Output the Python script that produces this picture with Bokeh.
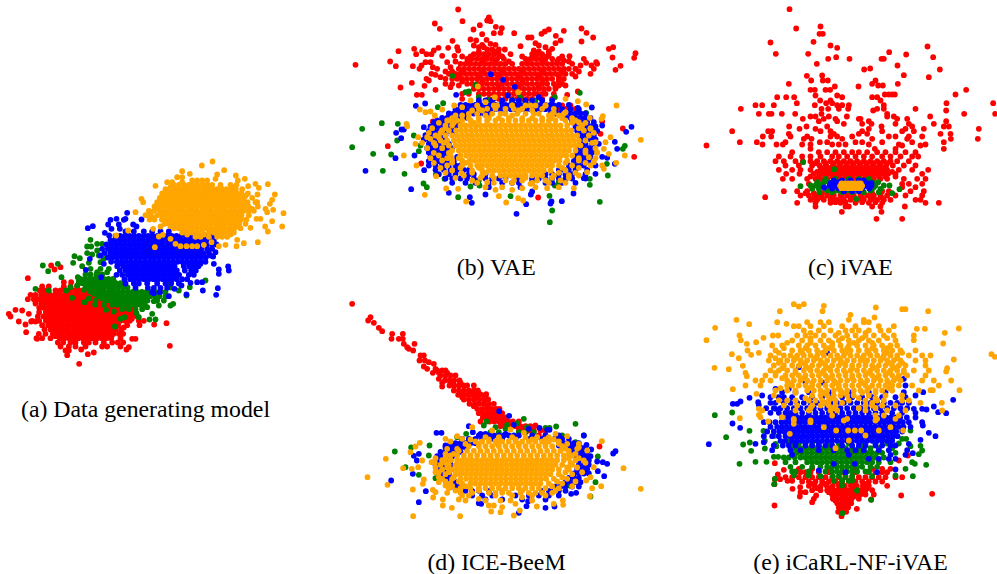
from bokeh.plotting import figure
from bokeh.embed import file_html
from bokeh.resources import INLINE
from bokeh.core.properties import value

a_origin = (0, 150)
b_origin = (345, 5)
c_origin = (695, 0)
d_origin = (345, 295)
e_origin = (695, 295)

colors = ["red", "green", "blue", "orange"]
captions = ["(a) Data generating model", "(b) VAE", "(c) iVAE", "(d) ICE-BeeM", "(e) iCaRL-NF-iVAE"]
caption_x = [145, 496, 850, 496, 850]
caption_y = [408, 266, 266, 561, 561]

a_red = [(345,152),(350,180),(357,162),(383,82),(478,45),(480,65),(490,25,85),(498,30),(513,55,105,92),(522,75,461),(545,77),(518,498),(586,508),(640,236),(614,200),(611,262),(606,280),(597,242,378),(590,385),(565,395,405,110),(600,195,205),
(395,190,212,236),(408,125,145,190,210,230,270,290),(420,118,132,165,180,195,209,223,237,251,265,279,293,307),
(433,90,105,122,136,150,164,178,192,206,220,234,248,262,276,290,304,318,332),(446,82,100,113,127,141,155,169,183,197,211,225,239,253,267,281,295,309,323,337,350),
(459,105,122,136,150,164,178,192,206,220,234,248,262,276,290,304,318,332,346,360,372),(472,116,129,143,157,171,185,199,213,227,241,255,269,283,297,311,325,339,353,367,381,392),
(485,116,136,150,164,178,192,206,220,234,248,262,276,290,304,318,332,346,360,374,388,402),(498,112,129,143,157,171,185,199,213,227,241,255,269,283,297,311,325,339,353,367,381,395,410),
(511,95,116,136,150,164,178,192,206,220,234,248,262,276,290,304,318,332,346,360,374,388,415,430),(524,125,143,157,171,185,199,213,227,241,255,269,283,297,311,325,339,353,380,417),
(537,132,150,164,178,192,206,220,234,248,262,276,290,304,318,332,346,362),(550,115,135,157,171,185,199,213,227,241,255,269,283,297,311,325,339,355,368),
(563,108,125,150,178,192,206,220,234,248,262,276,290,304,318,332,360),(576,172,188,210,225,250,265,285,310,335,352,368),(588,180,205,225,255,305,320,360),
(427,143,171,199,227,255,283,311),(453,133,175,217,259,301,343),(479,150,192,234,276,318,360),(505,143,185,227,269,311,353,394),(531,160,202,244,286,328,370),(557,165,207,249,291,333)]
a_green = [(345,127),(340,172),(362,143),(415,105),(420,145,197),(380,183,232),(268,270),(288,260,272),(280,290,305),(317,222),(323,238),(308,260),(312,275),(337,218,265),(347,245),(300,290),(315,295),(325,310),(335,300),(465,475,510),(460,518),(490,455),(507,465,447),(500,415,372),(488,408),(505,360),(528,343),(483,340),(478,317),(462,284),(455,252),(442,215),(410,210),(398,245),(435,558),(420,535),(410,568),(348,575),(390,615),(450,490),(452,460),(470,440),
(372,255,270,288,305),(385,240,254,268,282,296,310,324,338),(398,248,262,276,290,304,318,332,346,360,500),(411,255,269,283,297,311,325,339,353,367,381,510),(424,270,284,298,312,326,340,354,368,382,396,410,424,438,452,466,480,495),(437,295,309,323,337,351,365,379,393,407,421,435,449,463,477,495),(450,285,315,329,343,357,371,385,399,413,427,441,470),(463,310,335,349,363,377,391,405,419,433),(476,365,385,405,425),
(355,270,300,325),(365,290,320),(392,235,270,300,340),(405,230,275,315,350),(418,250,290,330),(430,280,320,350),(444,265,305,345)]
a_blue = [(187,380),(208,330,370),(205,348,375),(233,262),(227,277),(222,323,355,398),(228,408),(207,423),(247,313),(255,326),(235,333,358),(325,268),(358,256),(380,302),(357,655),(370,655),(348,683),(360,685),(413,652),(433,647),(420,607),(432,558),(415,522),(437,505),(395,590,605),(340,640),(315,630),(305,645),(318,638),(307,625),(405,543),(397,570),(428,460),(412,442),
(243,375,400,430,455,480,505),(256,345,359,373,387,401,415,429,443,457,471,485,500,514,528,542,556,570,584,598,612,626,640),(269,330,344,358,372,386,400,414,428,442,456,470,484,498,512,526,540,554,568,582,596,610,624,640),(282,318,332,346,360,374,388,402,416,430,444,458,472,486,500,514,530,545,560,575,590,605,620,635,648),
(295,305,322,336,350,364,378,392,406,420,434,448,462,476,490,504,518,532,546,560,574,588,602,620,635),(308,312,329,343,357,371,385,399,413,427,441,455,469,483,497,511,525,539,553,567,581,595,609),(321,322,336,350,364,378,392,406,420,434,448,462,476,490,504,518,532,546,560,574,588,602,616),
(334,332,349,363,377,391,405,419,433,447,461,475,489,503,517,531,545,559,573,587,601,615),(347,350,368,382,396,410,424,438,452,466,480,494,508,522,550,566,580,594),(360,358,375,389,403,417,431,445,459,473,487,501,515,529,553,572,586),(373,348,365,382,396,410,424,438,452,466,480,494,508,522,536,565,580),(386,372,389,403,417,431,445,459,473,487,501,515,529,545,560),(399,375,400,415,440,470,495,512,535),(412,405,460,480,500),(425,455,478),
(262,365,395,425,455,485),(315,300,345,395,445,495,545,595),(340,310,355,400,450,500,550,600)]
a_orange = [(45,604),(33,636),(59,671),(62,545),(80,530,545),(70,568),(72,650),(85,645,733),(75,706),(90,712),(100,765),(101,802),(112,775),(107,743),(106,465),(145,423),(155,428,470),(185,405,800),(188,849),(228,845,794),(212,815),(243,802),(275,772),(287,708,655),(278,730),(268,710),(232,750),(205,768,780),(132,823,771),(148,815),(160,808),(175,795),(178,818),(155,770),(240,383),(255,347),(290,463),(235,458),(228,480),(258,475),(253,487),(265,510),(280,525),(287,540,558,575,590),(283,610,675),(275,633),(95,500,515,545),
(90,575,590,605,620),(103,520,535,550,565,579,593,607,621,635,660,690,708),(116,495,510,524,538,552,566,580,594,608,622,636,650,664,678,692,706,725),(129,485,499,513,527,541,555,569,583,597,611,625,639,653,667,681,695,709,723,742),
(142,478,492,506,520,534,548,562,576,590,604,618,632,646,660,674,688,702,716,730,755),(155,475,489,503,517,531,545,559,573,587,601,615,629,643,657,671,685,699,713,727,741,765),(168,462,478,492,506,520,534,548,562,576,590,604,618,632,646,660,674,688,702,716,730,744,772),
(181,445,460,478,492,506,520,534,548,562,576,590,604,618,632,646,660,674,688,702,716,730,744,760),(194,435,450,470,485,499,513,527,541,555,569,583,597,611,625,639,653,667,681,695,709,723,745),(207,447,462,484,498,512,526,540,554,568,582,596,610,624,638,652,666,680,694,708,722,738),
(220,492,506,520,534,548,562,576,590,604,618,632,646,660,674,688,702,716,735),(233,520,534,548,562,576,590,604,618,632,646,660,674,688,702,720),(246,545,560,575,590,605,625,640,655,670,685,700),(259,585,600,625,650,665,680),
(110,510,560,610,660,700),(136,500,550,600,650,700,735),(175,470,520,570,620,670,720,755),(200,455,505,555,605,655,705),(227,510,560,610,660,710),(252,560,610,650,690)]

b_red = [(12,338),(36,430),(45,425),(47,435,351),(54,268),(59,403),(70,283),(72,384,610),(64,451),(68,469),(82,465,723),(83,445,506),(86,410),(78,598),(85,588),(76,655),(69,708),(96,743,548,558),(108,708),(91,631),(105,645,392),(102,375),(106,321),(103,423),(115,435),(120,385,580),(125,400,415,335,600,803),(127,308,279),(135,265,338,565),(130,206,790,620),(137,159,230),(146,212,243,258),(151,290,327),(122,525),(113,570,630),(143,870),(157,866),(156,801),(181,825),(193,810),(170,752,240,305),(160,715),(172,722),(180,705,228,738),(152,672),(165,655),(178,30),(168,134),(182,151,202),(190,222,690,745),(170,255),(185,262,315),(205,258,310),(190,275),(208,270),(215,285),(220,243),(225,250),(232,199),(241,237),(246,165),(253,270),(268,214,229,665),(235,300),(245,315),(240,340,660,640),(205,735),(175,755),(247,630),(258,697),(198,320),
(118,410,450),(132,425,440,460,478),(146,385,400,415,430,445,460,495,560,575,590,610),(160,365,380,395,410,425,440,455,475,540,555,570,585,600,620,640),(175,345,360,375,390,405,420,435,450,465,480,500,530,545,560,575,590,605,620,635,650,680),
(190,340,355,370,385,400,415,430,445,460,475,490,505,520,535,550,565,580,595,610,625,640,655,670,690),(205,330,345,360,375,390,405,420,435,450,465,480,495,510,525,540,555,570,585,600,615,630,645,660,680),
(220,300,320,335,350,365,380,395,410,425,440,455,470,485,500,515,530,545,560,575,590,605,620,640,655),(235,320,365,380,395,410,425,440,455,470,485,500,515,530,545,560,575,590,605,625,650),(250,385,400,415,430,445,460,475,490,505,520,535,550,565,580,595,610,630),(265,350,370,400,415,430,445,460,475,490,505,520,535,550,565,575,590,600,625),(280,350,430,445,460,480,500,515,530,545,560,590,620),(300,650,675),(310,640,660,690),(348,262,770),(474,227),(422,127),(369,832),(454,866),(576,578),(385,765),(460,705),
(138,400,450,580,610),(153,350,375,420,470,530,565,605,650),(168,330,370,410,450,490,545,590,635,670),(198,300,350,410,470,530,590,650,700),(213,340,400,460,520,580,640,690),(228,350,410,470,530,590,640),(243,400,460,520,580)]
b_green = [(370,50),(353,109),(355,157),(425,20),(445,83),(447,137),(405,155),(496,112),(505,177),(534,234),(545,244),(520,297,733),(575,338),(543,375),(540,402,628),(572,495),(571,612),(615,620),(650,613),(589,763),(510,787),(538,733),(475,784),(421,838),(430,832,745),(322,722),(262,703),(275,628,400,523),(211,321),(260,360),(258,370),(293,293),(305,277),(390,205),(420,225),(437,220),(380,253),(440,267),(507,271),(530,640),(238,390),(283,430),(328,680),(360,745),(290,400,540),(285,500,570),(525,400,560),(480,290,700),(350,310,700)]
b_blue = [(496,60),(458,150),(551,197),(450,207),(382,152),(372,168,175),(398,167),(301,211),(294,239),(494,236),(562,310),(575,373),(592,379),(567,420),(625,513),(596,542),(594,615),(588,618),(587,649),(564,684),(567,556),(558,560),(364,858),(379,842),(430,815),(409,808),(457,785),(475,808),(505,750),(518,715),(306,739),(307,697),(268,332),(206,436),(223,473),(244,508),(270,487),(275,580),(300,625),(360,770),(365,235),(355,290),(345,275),
(285,400,420,440,470,500,520,540,560,590,620),(298,345,360,375,390,405,420,435,450,465,480,495,510,525,540,555,570,585,600,615,640,670),(311,330,345,360,375,390,405,420,435,450,465,480,495,510,525,540,555,570,585,600,615,630,650,675,700),(324,310,325,340,355,370,385,400,415,430,615,630,645,660,675,690,705,720),(337,290,305,320,335,350,365,660,675,690,705,720,735),(350,265,280,295,310,325,340,680,695,710,725,745),(363,255,270,285,300,315,330,690,705,720,735,750),(376,250,265,280,295,310,325,695,710,725,740,755),(389,240,255,270,285,300,700,715,730,745),(402,235,250,265,280,295,705,720,735,750),(415,250,265,280,295,310,705,720,740,760),(428,245,260,275,290,305,320,700,715,730,745),(441,250,265,280,295,310,695,710,725,740),(454,255,270,285,300,315,335,690,705,720,735,770),(467,250,265,280,295,310,325,685,700,715,730),(480,250,270,290,310,330,345,670,685,700,715,750),(493,270,295,315,335,355,370,640,655,670,690,725),(506,280,310,330,350,370,385,420,600,620,640,660,680,720),(519,300,320,345,365,385,420,440,460,480,520,560,580,600,620,640,660,680,720),(532,320,360,390,430,470,500,520,560,600,620,650,690),(545,430,525)]
b_orange = [(300,813),(403,886),(450,838),(472,812),(355,183),(362,185),(450,175),(480,213),(568,238),(549,302),(550,338),(588,362),(591,482),(578,518),(585,533),(312,223,290),(320,240),(318,255),(330,268),(300,326),(243,397),(275,448),(260,518),(280,660),(287,697),(297,722),(332,772),(340,768),(337,733),(395,795),(410,780),(430,775),(445,790),(490,775),(480,770,735),(470,745),(500,725),(510,700),(548,685,605,530),(535,555),(553,500),(572,460),(553,450),(530,425),(525,380),(503,348),(495,320),(512,272),(415,210),(395,218,245),(400,255),(395,280),(375,290),(345,305),(330,330),(305,350),(285,375),(300,395),(290,420),(300,455,500,540,570,600),(322,625),(320,660),(350,700),(370,735),(410,750),(440,755),(455,730),(315,380,410,520,560),(330,350,420,500,610,640),
(345,310,335,350,375,400,425,450,470,490,510,530,550,570,590,610,630,660,690),(360,300,320,345,360,375,390,405,420,435,450,465,480,495,510,525,540,555,570,585,600,615,630,645,665,710),(375,290,310,332,347,362,377,392,407,422,437,452,467,482,497,512,527,542,557,572,587,602,617,632,647,662,677,715),
(390,270,300,320,335,350,365,380,395,410,425,440,455,470,485,500,515,530,545,560,575,590,605,620,635,650,665,680,695,730),(405,285,305,325,340,355,370,385,400,415,430,445,460,475,490,505,520,535,550,565,580,595,610,625,640,655,670,685,700,720),(420,270,310,330,345,360,375,390,405,420,435,450,465,480,495,510,525,540,555,570,585,600,615,630,645,660,675,690,705),
(435,320,340,355,370,385,400,415,430,445,460,475,490,505,520,535,550,565,580,595,610,625,640,655,670,690,720),(450,280,315,345,362,377,392,407,422,437,452,467,482,497,512,527,542,557,572,587,602,617,632,647,662,680),(465,290,320,350,372,387,402,417,432,447,462,477,492,507,522,537,552,567,582,597,612,627,642,665,700),
(480,305,350,375,395,410,425,440,455,470,485,500,515,530,545,560,575,590,605,620,640,680),(495,380,410,430,445,460,475,490,505,520,535,550,565,580,595,615,660),(510,355,410,440,465,480,495,510,525,540,560,575,590,625,670),(525,480,505,530,575,600,645),
(300,445,500,555,600),(310,400,425,450,480,505,530,590,625),(325,370,395,440,465,480,515,540,565,580,620,655),(338,320,370,400,430,460,490,530,560,590,620,650,680),(352,280,325,385,680,720),(368,260,300,700,735),(382,250,285,745),(412,230,265,295,740),(428,245,290,750),(442,265,310,720,755),(458,255,305,340,700,750),(472,265,320,360,660,720),(487,285,345,400,650,700),(502,300,380,420,640,690),(517,330,405,445,540,620,670),(532,395,445,500,560,610,660),(545,420,470,570,640)]

c_red = [(26,282),(84,302),(78,375),(100,372,382),(126,225),(124,354),(135,405),(142,425),(138,696),(160,241,338),(155,581),(162,632),(170,422,713),(175,398,462,558,565),(190,364),(195,606),(207,506,733),(204,524),(224,625),(226,334),(230,700),(225,380),(240,347,382,397,540),(250,280,607,530),(258,418,489),(255,548,562),(268,345,358,404,390,812),(282,568,580,590,598,780),(285,360,425),(290,272,296,245,440,530,545),(300,374,405,555),(308,304,392,410,893,753),(314,180,200,235,358,440,425,460,565),(325,136,378,398,430,458,545,565,660),(330,752,533),(340,190,220,228,259,299,378,575,806,899),(348,345,360,400,454,595,575,704),(355,322,385,420,490,495,605,635),(362,370,425,520,752),(370,445,500,528,600,640,715),(378,281,333,395,558,650,745,760),(385,312,360,520,630,685,850),(392,110,218,230,375,405,500,560,620,655),(400,280,415,490,515,735,765),(408,202,227,285,335,405,425,470,600,580,640,680),(415,325,348,440,530,635,766,847),(425,133,184,270,373,395,480,500,560,650,745),(432,201,243,262,320,345,410,430,450,520,610,690),(435,33,620,675),(445,345,745,538,600),
(455,290,370,395,420,445,470,490,515,545,570,600,630,660),(468,250,285,320,345,375,410,430,455,480,505,530,560,585,615,650,668),(482,240,265,300,322,345,365,385,405,425,445,465,485,505,525,545,565,585,605,640),(495,270,310,350,372,392,412,432,452,472,492,512,532,552,572,592,625,660),(508,250,290,315,345,375,395,415,435,455,475,495,515,535,555,575,610,650,698),(520,272,312,355,378,398,418,438,458,478,498,518,538,558,578,600,680),(535,262,290,335,360,375,395,415,435,455,475,495,515,535,555,575,625,665,690),(550,340,620,640,680),(560,620,660),(572,265,305,335,560,580,645,685),(585,315,340,360,375,395,415,435,455,475,495,515,535,555,575,600,630,680),(590,209),(598,345,365,385,405,425,445,465,485,505,525,545,565,585,660,675),(607,730,690,305,360,405,435,480,520,560),(618,360,460,450,530,555,628),(634,439,558),(655,620,543),
(488,360,390,415,435,455,475,495,515,535,555,575),(502,385,405,425,445,465,485,505,525,545,565),(514,365,385,405,425,445,465,485,505,525,545,565,590),(528,345,370,390,410,430,450,470,490,510,530,550,570,600),(592,355,380,410,440,470,500,530,560),(578,330,355,380,410,440,470,500,530,555),(605,420,450,500,540)]
c_green = [(485,323),(506,416),(557,315),(566,612),(578,590),(595,482),(535,390,420,460,490,520),(545,365,385,530,548),(555,345,360,375,540,565,582),(565,350,370,390,530,555),(575,372,410,440,470,505,550),(545,400,520),(550,380,535),(560,385,535),(570,395,425,455,485,525)]
c_blue = [(561,386),(540,415,440,465,490,505),(548,405,420,515,528),(556,403,418,510,528),(564,410,430,455,480,500,522),(572,445,470,490),(552,412,520),(560,412,520),(545,430,460,500)]
c_orange = [(549,438,448,458,468,478,488,496),(556,434,444,454,464,474,484,494,500),(563,438,448,458,468,478,488,496)]

d_red = [(25,20),(65,75),(75,68),(82,85),(97,100),(107,110),(115,140,172),(130,138,160,172),(145,175,207),(155,185),(160,190),(165,203),(180,225,235),(195,222,238),(213,235),(200,250),(220,245,270),(205,265),(225,275,290,300),(250,280),(273,290),(270,385,365),(296,422),(378,405),(390,570),(453,762),
(240,285,300,315,330),(255,298,312,326,342),(270,312,326,340,354),(285,325,340,355,370,385,397),(298,338,352,366,380,394,408),(312,355,370,385,400,415,428),(325,372,388,402,416,430,445),(340,395,410,424,438,452,462),(353,400,414,428,442,456,470),(366,412,426,440,454,468,482),(378,432,446,460,474,488,502,520),(392,465,480,495,510,525,540,555),(405,520,535,550,565,585,600),(420,580,600),
(232,262,280,305),(262,290,320,345),(292,345,375,400),(305,350,390,420),(332,385,425),(360,420,460),(385,475,510)]
d_green = [(370,535),(385,690),(393,632),(397,600,612),(378,423),(390,415),(395,450),(410,435),(388,485),(400,480),(383,515),(415,362),(468,148),(456,197),(450,252),(480,250),(538,220),(515,180),(548,270),(425,335),(455,325),(420,650,715),(440,690),(470,710),(483,757),(520,720),(560,750),(603,735),(570,672),(600,606),(410,565,540,520,460),(395,545),(425,600,630)]
d_blue = [(347,461),(361,491),(392,370),(410,382),(412,273,288),(388,505),(400,550),(397,582),(403,605,612),(425,642),(420,715),(448,723),(462,737),(467,810),(474,803),(505,785),(500,772),(527,757),(542,776),(498,755),(493,728),(475,220),(481,205),(495,214),(535,202),(555,137),(587,241),(620,220),(623,400),(625,407),(652,520),(632,543),(617,548),(637,600),(633,627),(595,677),(592,692),(460,315),(465,325),(450,300),(435,380),(415,405,420,480),(450,640),(470,690),
(420,400,415,430,445,460,475,490,505,520,560,600,640),(430,350,370,390,410,440,470,510,550,590,610,630,650,670),(443,315,330,345,360,375,390,640,655,670,685,700),(456,300,315,330,345,360,660,675,690,705,720),(469,285,300,315,330,345,680,695,710,725),(482,275,290,305,320,690,705,720,735),(495,270,285,300,315,700,715,730),(508,270,285,300,315,700,715,730),(521,275,290,305,695,710,725),(534,280,295,310,685,700,715,730),(547,290,305,320,670,685,700),(560,305,320,335,660,675,690,705),(573,320,335,350,630,645,660,680,700),(586,345,360,380,400,430,590,610,625,640,660),(600,380,410,440,510,550,580,610,640),(612,420,470,530,600)]
d_orange = [(545,66),(490,121),(568,126),(518,173,834),(662,203,344),(582,202),(580,886),(437,769),(572,767),(442,223),(453,210),(470,195),(520,199),(515,218),(495,230),(500,258),(552,235),(565,232),(583,262),(590,270),(606,263),(612,292,340),(630,292,430,445),(637,319),(600,350),(648,437),(650,465),(660,505),(645,523),(625,510,625),(605,530),(633,574),(628,653),(615,652),(602,733),(578,740),(555,722),(545,735),(515,745),(495,715),(465,725),(455,700),(422,665),(415,630),(412,535),(402,495),(405,440),(395,380),(422,335),(430,350,300),(438,315),(635,470),(610,400),(580,345),(570,300),(560,280),(530,270),
(425,420,460,500,540,575,610),(438,390,410,430,450,470,490,510,530,550,570,590,610,640),(452,370,400,420,440,460,480,500,520,540,560,580,600,620,650),(466,340,365,385,405,425,445,465,485,505,525,545,565,585,605,625,645,670),(480,315,335,355,375,395,415,435,455,475,495,515,535,555,575,595,615,635,655,680),
(494,290,315,335,350,365,380,395,410,425,440,455,470,485,500,515,530,545,560,575,590,605,620,635,655,690),(508,285,310,330,345,360,375,390,405,420,435,450,465,480,495,510,525,540,555,570,585,600,615,630,650,680),(522,290,320,335,350,365,380,395,410,425,440,455,470,485,500,515,530,545,560,575,590,605,620,640,670),
(536,300,330,345,360,375,390,405,420,435,450,465,480,495,510,525,540,555,570,585,600,615,640,680),(550,290,320,345,362,377,392,407,422,437,452,467,482,497,512,527,542,557,572,587,602,625,665),(564,315,350,375,390,405,420,435,450,465,480,495,510,525,540,555,570,585,610,650),(578,310,345,375,400,420,440,460,480,500,520,540,560,580,600,640),(592,305,345,380,430,450,470,490,525,550,570,590,620),
(432,375,430,460,510,560,600,625),(445,360,400,455,520,600,640,665,700),(460,305,335,660,695),(475,300,325,670,690),(488,270,300,670,700),(502,268,300,675,720),(516,270,305,665,695),(530,280,310,660,710),(545,280,325,650),(558,300,340,635,690),(572,320,360,620,680),(585,330,400,470,530,630),(600,370,450,500,560,600),(615,360,420,465,495,560)]

e_red = [(503,238),(523,265),(537,247),(551,254,238),(566,237),(556,290,276),(580,291),(575,314),(590,330,315),(603,313),(600,362,617),(610,355),(620,350),(595,710),(640,484),(612,527),(630,237),(545,620,600),(480,637),(495,610),
(520,310,350,400,480,530,560,585),(530,300,315,330,345,370,400,440,480,520,540,560,575),(545,270,290,310,330,350,370,390,410,430,450,470,490,510,530,550,570),(558,320,340,360,380,400,420,440,460,480,500,520,540,560),(571,340,358,376,394,412,430,448,466,484,502,520,575),(584,350,375,395,412,426,440,454,468,482,496,510,530),(597,410,424,438,452,466,480,495,510,535),(610,412,426,440,454,468,490),(623,425,439,453,467),(636,430,444,458),(649,428,440,452),(662,438),
(565,350,390,430,470,510),(578,365,400,440,480,515),(590,400,435,470,500),(603,415,445,475),(616,420,445,465),(630,435,450)]
e_green = [(359,58),(351,110),(425,92),(447,143),(441,163),(466,167),(406,162),(406,204),(436,208),(459,208),(421,237),(499,180,213),(505,132),(484,235,248),(445,240),(452,243),(550,238),(566,236),(542,652),(508,692),(505,658),(476,670),(465,680),(451,675),(452,645),(430,632),(405,645),(520,630),(500,650),(613,527),(585,485),(555,440,470),(540,295,340,600),
(430,285,560,590,620),(444,280,295,310,330,350,370,400,430,460,500,540,575,610),(458,285,300,315,330,345,360,375,390,405,420,435,450,470,490,505,525,550,590),(472,290,305,320,335,350,365,380,395,410,425,440,455,470,485,500,515,530,545,560,600),(486,265,280,298,315,330,345,360,375,390,405,420,435,450,465,480,495,510,525,540,565),(500,270,300,335,350,365,380,395,410,425,440,455,470,485,500,515,530,550,585),(514,285,320,350,375,395,410,425,440,455,470,485,500,525,545),(528,290,300,340,390,410,425,440,455,470,485,510,520),(542,375,412,430,450,470,530),(556,415,440,460),(570,440),(585,485),(653,441)]
e_blue = [(325,112,125),(318,135),(384,111),(397,134),(446,40),(307,162),(320,188),(328,190),(280,240,280),(215,310),(172,395),(261,380,330),(290,683),(313,773),(353,752),(350,728),(333,715),(342,693),(390,682),(412,700),(422,720),(433,675),(445,640),(473,652),(522,600),(490,520,580),(530,545,450),(505,415,478),(525,370),(445,180),(440,205),(300,200,660),(340,240,655,680),(250,625),(270,630),
(290,260,300,340,400,460,520,570,625),(305,225,250,265,290,320,350,380,410,440,470,500,530,560,600,630),(322,225,240,265,285,305,325,345,365,385,405,425,445,465,485,505,525,545,565,585,605,620,640),(338,212,235,255,275,295,315,335,355,375,395,415,435,455,475,495,515,535,555,575,595,615,635),(352,225,250,270,285,300,320,340,360,380,400,420,440,460,480,500,520,540,560,590,620,660),(366,260,278,292,306,320,334,348,362,376,390,404,418,432,446,460,474,488,502,516,530,544,558,572,586,600,614,634,660),
(380,205,222,240,258,272,286,300,314,328,342,356,370,384,398,412,426,440,454,468,482,496,510,524,538,552,566,580,594,608,622,640,680),(394,225,245,260,274,288,302,316,330,344,358,372,386,400,414,428,442,456,470,484,498,512,526,540,554,568,582,596,610,624,645),(408,215,235,252,266,280,294,308,322,336,350,364,378,392,406,420,434,448,462,476,490,504,518,532,546,560,574,588,602,620),
(422,205,230,250,270,284,298,312,326,340,354,368,382,396,410,424,438,452,466,480,494,508,522,536,550,564,578,592,606),(436,255,270,290,305,320,335,350,365,380,395,410,425,440,455,470,485,500,515,530,545,560,575,590),(450,235,262,280,300,330,350,370,390,410,440,470,490,510,540,560,585,600),(464,230,285,315,370,415,455,480,505,550,580,635),(478,290,460,585,630),(490,550,600)]
e_orange = [(26,295,325),(33,310),(31,385),(47,253,381),(36,541),(41,620,630),(47,698),(58,465),(66,537),(73,460,123,505),(86,161),(97,59),(80,245),(85,273),(100,688,664),(99,790),(112,748),(144,743),(120,132,655,232,248),(134,33,136,655),(127,204),(140,182),(145,154),(176,109,888),(184,898),(188,130),(165,156),(178,167),(172,190),(211,142),(217,57),(221,100),(232,150),(242,154),(192,775),(218,755),(228,752),(255,767),(284,792),(281,112),(295,183),(322,739),(345,740),(284,705,712),(322,675),(368,133),(340,190),(358,190),(378,218),(415,283),(420,510),(435,460),(458,420),(385,295),(380,345),(395,385,585),(405,422,458,478,497,550,623),(370,295,455,545,600),(365,195,260),
(80,335,375,400,505,520),(92,295,310,345,385,440,480,550,595),(105,325,370,405,450,470,490,520,555,580),(120,305,330,360,385,420,455,480,510,535,565,595),(135,290,320,345,375,400,430,460,490,520,550,600),(150,230,260,310,335,360,385,410,435,460,485,510,535,560,585,605),(165,240,290,315,340,365,390,415,440,465,490,515,540,565,590,615,660),(180,225,265,285,305,325,345,365,385,405,425,445,465,485,505,525,545,565,585,605,640,680,705),
(195,220,255,275,295,315,335,355,375,395,415,435,455,475,495,515,535,555,575,595,615,660,690),(210,235,265,290,310,330,350,370,390,410,430,450,470,490,510,530,550,570,590,610,630,690),(225,225,250,275,300,325,345,365,385,405,425,445,465,485,505,525,545,565,585,605,625,655,700),(240,210,240,270,290,310,330,350,370,390,410,430,450,470,490,510,530,550,570,590,610,635,690),
(255,180,200,225,275,295,315,335,355,375,395,415,435,455,475,495,515,535,555,575,595,615,680,715),(270,150,195,275,290,310,330,350,370,390,410,430,450,470,490,510,530,550,570,590,610,650,730),(285,240,275,300,335,355,375,395,415,435,455,475,495,515,540,560,590,670),(300,235,350,375,395,415,435,455,475,520,570,620),(315,250,275,300,340,360,380,400,420,460,510,545,565,620,640),(330,265,305,350,375,400,420,510,530,560,600),(345,200,300,340,405,425,510,575,630),(360,410,540,565,610),(375,295,345,445,540),
(112,345,430,510),(128,345,440,500,575),(142,275,345,410,475,530),(158,265,330,400,455,530,575),(172,250,320,380,450,520,575,620),(188,240,300,360,430,500,560,605),(202,250,320,380,440,510,580,620),(218,260,340,400,470,540,600),(232,240,300,380,450,520,580,625),(248,260,325,400,470,540,605),(262,280,350,420,500,580),(278,255,340,430,520,580),(292,300,385,440,500,540),(308,330,410,490,540),(322,385,440,530),(338,345,415,490,540)]


def rows_to_xy(rows, origin):
    xs, ys = [], []
    for row in rows:
        for x in row[1:]:
            xs.append(origin[0] + x / 3)
            ys.append(origin[1] + row[0] / 3)
    return xs, ys


p = figure(width=997, height=574, x_range=(0, 997), y_range=(574, 0),
           toolbar_location=None, output_backend="svg", min_border=0)
p.axis.visible = False
p.grid.visible = False
p.outline_line_color = None

panels = [(a_origin, [a_red, a_green, a_blue, a_orange]),
          (b_origin, [b_red, b_green, b_blue, b_orange]),
          (c_origin, [c_red, c_green, c_blue, c_orange]),
          (d_origin, [d_red, d_green, d_blue, d_orange]),
          (e_origin, [e_red, e_green, e_blue, e_orange])]
for origin, series in panels:
    for rows, color in zip(series, colors):
        xs, ys = rows_to_xy(rows, origin)
        p.scatter(xs, ys, size=5.8, color=color, line_width=0)

p.text(caption_x, caption_y, text=captions, text_font=value("Liberation Serif"),
       text_font_size="23.8px", text_align="center", text_baseline="middle", text_color="black")

open("out.html", "w").write(file_html(p, INLINE))
